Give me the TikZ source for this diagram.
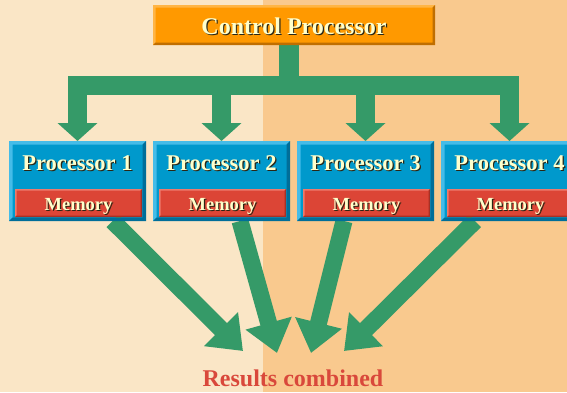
\documentclass[tikz,border=0pt]{standalone}
\usepackage{fontspec}
\setmainfont{Liberation Serif}
\usetikzlibrary{arrows.meta}
\definecolor{bgL}{HTML}{FAE6C6}
\definecolor{bgR}{HTML}{F9C98E}
\definecolor{grn}{HTML}{359A68}
\definecolor{cpfill}{HTML}{FF9900}
\definecolor{cplight}{HTML}{FFB545}
\definecolor{cpdark}{HTML}{C06E00}
\definecolor{pfill}{HTML}{0099CC}
\definecolor{plight}{HTML}{45BCE8}
\definecolor{pdark}{HTML}{006E99}
\definecolor{mfill}{HTML}{DC4536}
\definecolor{mlight}{HTML}{EE7A6C}
\definecolor{mdark}{HTML}{A83024}
\definecolor{txtfg}{HTML}{FFFFCC}
\definecolor{txtsh}{HTML}{2A2715}
\definecolor{rescol}{HTML}{D9483B}
\newcommand{\shtext}[1]{\leavevmode\rlap{\kern1.2pt\raisebox{-1.2pt}{\color{txtsh}#1}}{\color{txtfg}#1}}
\newcommand{\bevelbox}[4]{%
  \fill[#2] (#1.south west) -- (#1.north west) -- (#1.north east)
    -- ([xshift=-#4,yshift=-#4]#1.north east) -- ([xshift=#4,yshift=-#4]#1.north west)
    -- ([xshift=#4,yshift=#4]#1.south west) -- cycle;
  \fill[#3] (#1.south west) -- (#1.south east) -- (#1.north east)
    -- ([xshift=-#4,yshift=-#4]#1.north east) -- ([xshift=-#4,yshift=#4]#1.south east)
    -- ([xshift=#4,yshift=#4]#1.south west) -- cycle;}
\begin{document}
\begin{tikzpicture}[x=1pt,y=-1pt,
  basebox/.style={rectangle, inner sep=0pt, outer sep=0pt},
  cpbox/.style={basebox, fill=cpfill, minimum width=282pt, minimum height=40pt},
  pbox/.style={basebox, fill=pfill, minimum width=137pt, minimum height=80pt},
  membox/.style={basebox, fill=mfill, minimum width=127pt, minimum height=28pt},
  bigtxt/.style={inner sep=0pt, anchor=base, font=\fontsize{24}{26}\selectfont\bfseries},
  ptxt/.style={inner sep=0pt, anchor=base, font=\fontsize{22.5}{24}\selectfont\bfseries},
  mtxt/.style={inner sep=0pt, anchor=base, font=\fontsize{18.5}{20}\selectfont\bfseries},
  restxt/.style={inner sep=0pt, anchor=base, text=rescol, font=\fontsize{24}{26}\selectfont\bfseries},
  toparrow/.style={draw=grn, line width=19pt, line join=miter, -{Triangle[width=39pt,length=18pt]}},
  botarrow/.style={draw=grn, line width=17pt, -{Triangle[width=46pt,length=31pt]}}
]
\useasboundingbox (0,0) rectangle (567,392);
\fill[bgL] (0,0) rectangle (263,392);
\fill[bgR] (263,0) rectangle (567,392);

% nodes
\node[cpbox] (cp) at (294,25) {};
\node[pbox] (p1) at (77.5,181) {};
\node[pbox] (p2) at (221.5,181) {};
\node[pbox] (p3) at (365.5,181) {};
\node[pbox] (p4) at (509.5,181) {};

% arrows from processors to results
\coordinate (r1) at (243,351);
\coordinate (r2) at (277,353);
\coordinate (r3) at (311,353);
\coordinate (r4) at (344,351);
\draw[botarrow] ([xshift=35pt]p1.south) -- (r1);
\draw[botarrow] ([xshift=18.5pt]p2.south) -- (r2);
\draw[botarrow] ([xshift=-21.5pt]p3.south) -- (r3);
\draw[botarrow] ([xshift=-34.5pt]p4.south) -- (r4);

% control distribution
\coordinate (j) at (289,85);
\draw[grn, line width=20pt] ([xshift=-5pt]cp.south) -- (j);
\draw[toparrow] (j) -| (p1.north);
\draw[toparrow] (j) -| (p2.north);
\draw[toparrow] (j) -| (p3.north);
\draw[toparrow] (j) -| (p4.north);

% bevels
\bevelbox{cp}{cplight}{cpdark}{2.5pt}
\bevelbox{p1}{plight}{pdark}{3.5pt}
\bevelbox{p2}{plight}{pdark}{3.5pt}
\bevelbox{p3}{plight}{pdark}{3.5pt}
\bevelbox{p4}{plight}{pdark}{3.5pt}

\node[membox] (m1) at (78.5,203) {};
\node[membox] (m2) at (222.5,203) {};
\node[membox] (m3) at (366.5,203) {};
\node[membox] (m4) at (510.5,203) {};
\bevelbox{m1}{mlight}{mdark}{1.5pt}
\bevelbox{m2}{mlight}{mdark}{1.5pt}
\bevelbox{m3}{mlight}{mdark}{1.5pt}
\bevelbox{m4}{mlight}{mdark}{1.5pt}

% texts
\node[bigtxt] (cpt) at (294,34) {\shtext{Control Processor}};
\node[ptxt] (p1t) at (77.5,170.5) {\shtext{Processor 1}};
\node[ptxt] (p2t) at (221.5,170.5) {\shtext{Processor 2}};
\node[ptxt] (p3t) at (365.5,170.5) {\shtext{Processor 3}};
\node[ptxt] (p4t) at (509.5,170.5) {\shtext{Processor 4}};
\node[mtxt] (m1t) at (78.5,210) {\shtext{Memory}};
\node[mtxt] (m2t) at (222.5,210) {\shtext{Memory}};
\node[mtxt] (m3t) at (366.5,210) {\shtext{Memory}};
\node[mtxt] (m4t) at (510.5,210) {\shtext{Memory}};
\node[restxt] (res) at (293,386) {Results combined};
\end{tikzpicture}
\end{document}
